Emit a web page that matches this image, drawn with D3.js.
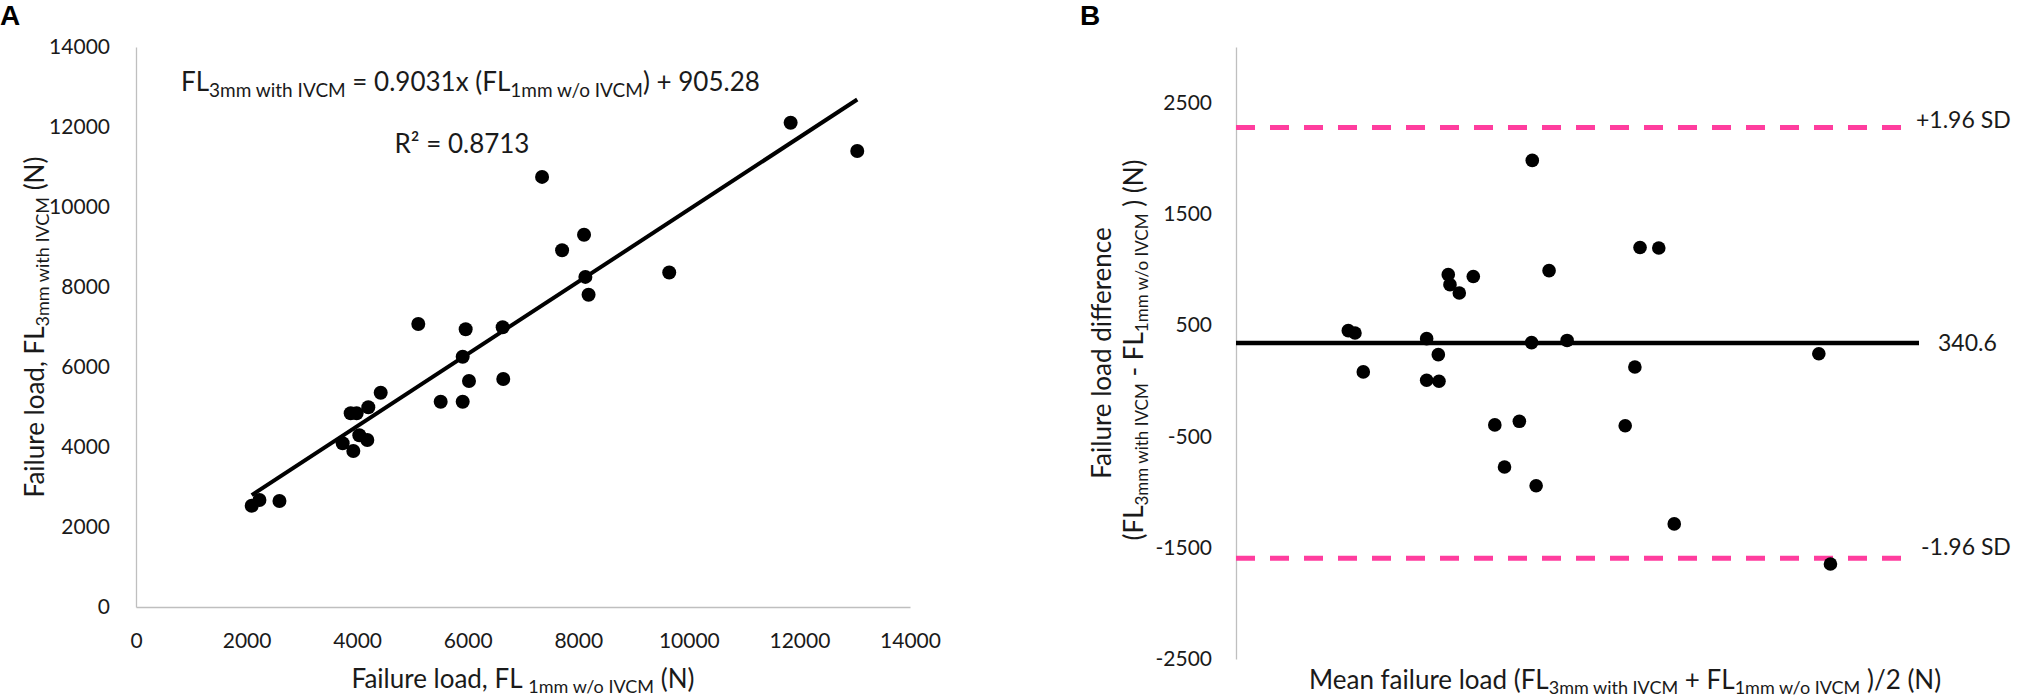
<!DOCTYPE html>
<html>
<head>
<meta charset="utf-8">
<script src="https://cdn.jsdelivr.net/npm/d3@7"></script>
<style>
  html, body { margin: 0; padding: 0; background: #fff; }
  svg { display: block; font-family: Lato, "Open Sans", sans-serif; }
</style>
</head>
<body>
<svg id="chart" width="2024" height="697"></svg>
<script>
// ---------- Data ----------
// Panel A: failure load 1mm w/o IVCM (x) vs 3mm with IVCM (y)
const aX = [2093, 2233, 2595, 3738, 3931, 4039, 4184, 3883, 3991, 4202, 4426, 5106, 5511, 5909, 5909, 5963, 6023, 6632, 6643, 7345, 7707, 8104, 8128, 8186, 9645, 11841, 13046];
const aY = [2530, 2675, 2650, 4092, 3900, 4292, 4175, 4842, 4842, 4992, 5358, 7075, 5133, 5133, 6258, 6942, 5650, 6992, 5700, 10752, 8918, 9308, 8252, 7807, 8363, 12107, 11400];
const aTicks = [0, 2000, 4000, 6000, 8000, 10000, 12000, 14000];
const trendSlope = 0.9031;
const trendIntercept = 905.28;

// Panel B: Bland-Altman (mean vs difference)
const bX = [2302, 2439, 2609, 3908, 4147, 3908, 4161, 4351, 4386, 4577, 4864, 5305, 5504, 5808, 6073, 6059, 6152, 6417, 6787, 7978, 8176, 8282, 8666, 8983, 11947, 12185];
const bY = [451, 430, 80, 379, 235, 5, -4, 954, 864, 789, 938, -396, -775, -364, 1981, 343, -943, 990, 363, -404, 124, 1198, 1194, -1286, 243, -1646];
const bTicks = [-2500, -1500, -500, 500, 1500, 2500];
const meanDiff = 340.6;
const upperLoA = 2276;
const lowerLoA = -1595;
const loaLabels = ["+1.96 SD", "-1.96 SD"];

// ---------- Helpers ----------
const svg = d3.select("#chart");
const TXT = "#1a1a1a";
const AXIS = "#bfbfbf";
const fmt = d => String(d);   // plain hyphen-minus like the reference

function rich(sel, parts, mainSize, subSize, shift) {
  let down = false;
  parts.forEach(p => {
    const t = sel.append("tspan").text(p.t);
    if (p.sub) {
      t.attr("font-size", subSize).attr("dy", down ? 0 : shift);
      down = true;
    } else {
      t.attr("font-size", mainSize).attr("dy", down ? -shift : 0);
      down = false;
    }
  });
  return sel;
}

// ---------- Panel A ----------
const xA = d3.scaleLinear().domain([0, 14000]).range([136, 910]);
const yA = d3.scaleLinear().domain([0, 14000]).range([607, 47]);

svg.append("text").attr("x", 0).attr("y", 25)
  .attr("font-family", "'Liberation Sans', Arial, sans-serif")
  .attr("font-weight", "bold").attr("font-size", 28).attr("fill", "#000").text("A");

const gAy = svg.append("g").attr("transform", `translate(${xA(0)},0)`)
  .call(d3.axisLeft(yA).tickValues(aTicks).tickSize(0).tickSizeOuter(0).tickPadding(26).tickFormat(fmt));
const gAx = svg.append("g").attr("transform", `translate(0,${yA(0)})`)
  .call(d3.axisBottom(xA).tickValues(aTicks).tickSize(0).tickSizeOuter(0).tickPadding(26).tickFormat(fmt));
[gAy, gAx].forEach(g => {
  g.select(".domain").attr("stroke", AXIS).attr("stroke-width", 1.3);
  g.selectAll("text").attr("font-size", 21).attr("fill", TXT).attr("font-family", "Lato, sans-serif");
});

// trendline over the data's x range
const xExt = d3.extent(aX);
svg.append("line")
  .attr("x1", xA(xExt[0])).attr("y1", yA(trendSlope * xExt[0] + trendIntercept))
  .attr("x2", xA(xExt[1])).attr("y2", yA(trendSlope * xExt[1] + trendIntercept))
  .attr("stroke", "#000").attr("stroke-width", 4);

svg.append("g").selectAll("circle").data(aX.map((v, i) => [v, aY[i]])).join("circle")
  .attr("cx", d => xA(d[0])).attr("cy", d => yA(d[1])).attr("r", 7).attr("fill", "#000");

// equation and R²
rich(svg.append("text").attr("x", 181).attr("y", 91).attr("fill", TXT),
  [{t: "FL"}, {t: "3mm with IVCM", sub: true}, {t: " = 0.9031x (FL"}, {t: "1mm w/o  IVCM", sub: true}, {t: ") + 905.28"}], 26, 19, 6);
svg.append("text").attr("x", 462).attr("y", 153).attr("text-anchor", "middle")
  .attr("font-size", 26).attr("fill", TXT).text("R² = 0.8713");

// axis titles
rich(svg.append("text").attr("text-anchor", "middle").attr("fill", TXT)
  .attr("transform", `translate(${xA(7000)},688)`),
  [{t: "Failure load, FL "}, {t: "1mm w/o IVCM", sub: true}, {t: " (N)"}], 26, 18, 5);
rich(svg.append("text").attr("text-anchor", "middle").attr("fill", TXT)
  .attr("transform", `translate(44,${yA(7000)}) rotate(-90)`),
  [{t: "Failure load, FL"}, {t: "3mm with IVCM", sub: true}, {t: " (N)"}], 26, 18, 5);

// ---------- Panel B ----------
const xB = d3.scaleLinear().domain([0, 14000]).range([1236, 1919]);
const yB = d3.scaleLinear().domain([-2500, 3000]).range([659, 47]);

svg.append("text").attr("x", 1080).attr("y", 25)
  .attr("font-family", "'Liberation Sans', Arial, sans-serif")
  .attr("font-weight", "bold").attr("font-size", 28).attr("fill", "#000").text("B");

const gBy = svg.append("g").attr("transform", `translate(${xB(0)},0)`)
  .call(d3.axisLeft(yB).tickValues(bTicks).tickSize(0).tickSizeOuter(0).tickPadding(24).tickFormat(fmt));
gBy.select(".domain").attr("stroke", AXIS).attr("stroke-width", 1.3);
gBy.selectAll("text").attr("font-size", 21).attr("fill", TXT).attr("font-family", "Lato, sans-serif");

// limits of agreement
[upperLoA, lowerLoA].forEach((v, i) => {
  svg.append("line").attr("x1", xB(0)).attr("x2", 1910)
    .attr("y1", yB(v)).attr("y2", yB(v))
    .attr("stroke", "#ff3d9e").attr("stroke-width", 5).attr("stroke-dasharray", "19 15");
  svg.append("text").attr("x", i === 0 ? 1916 : 1921).attr("y", yB(v) - (i === 0 ? 0 : 3))
    .attr("font-size", 23).attr("fill", TXT).text(loaLabels[i]);
});

// mean difference
svg.append("line").attr("x1", xB(0)).attr("x2", xB(14000))
  .attr("y1", yB(meanDiff)).attr("y2", yB(meanDiff))
  .attr("stroke", "#000").attr("stroke-width", 4.5);
svg.append("text").attr("x", 1938).attr("y", yB(meanDiff)).attr("dy", "0.35em")
  .attr("font-size", 23).attr("fill", TXT).text(String(meanDiff));

svg.append("g").selectAll("circle").data(bX.map((v, i) => [v, bY[i]])).join("circle")
  .attr("cx", d => xB(d[0])).attr("cy", d => yB(d[1])).attr("r", 6.8).attr("fill", "#000");

// titles
rich(svg.append("text").attr("x", 1309).attr("y", 689).attr("fill", TXT),
  [{t: "Mean failure load (FL"}, {t: "3mm with IVCM", sub: true}, {t: "  + FL"}, {t: "1mm w/o IVCM", sub: true}, {t: " )/2 (N)"}], 26, 18, 5);
svg.append("text").attr("text-anchor", "middle").attr("fill", TXT).attr("font-size", 26)
  .attr("transform", `translate(1111,353) rotate(-90)`).text("Failure load difference");
rich(svg.append("text").attr("text-anchor", "middle").attr("fill", TXT)
  .attr("transform", `translate(1143,350) rotate(-90)`),
  [{t: "(FL"}, {t: "3mm with IVCM", sub: true}, {t: "  - FL"}, {t: "1mm w/o IVCM", sub: true}, {t: " ) (N)"}], 26, 17, 5);
</script>
</body>
</html>
